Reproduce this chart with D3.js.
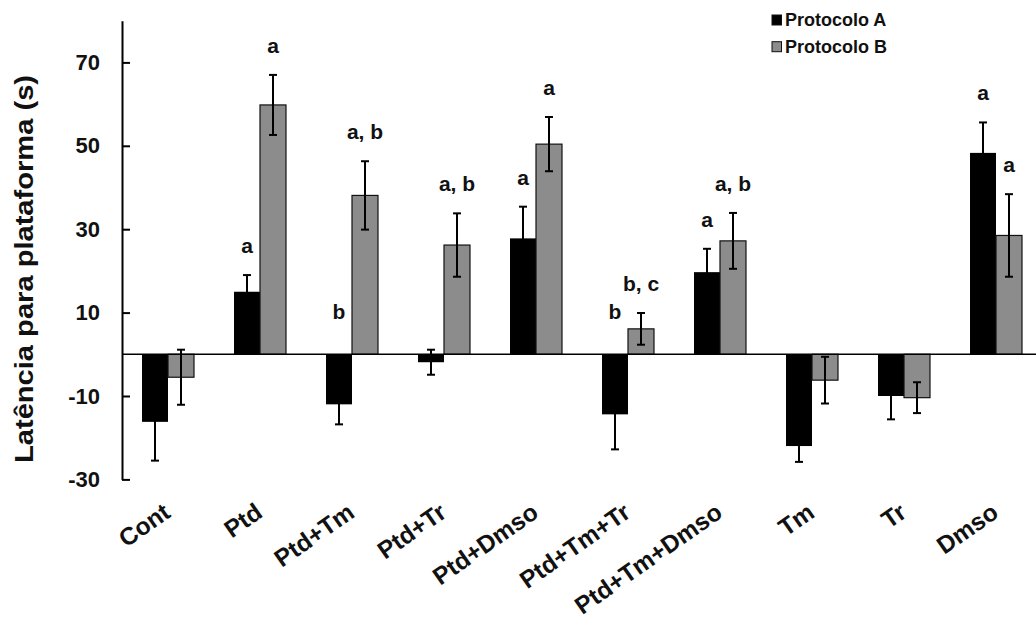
<!DOCTYPE html>
<html>
<head>
<meta charset="utf-8">
<script src="https://cdn.jsdelivr.net/npm/d3@7"></script>
<style>
  html, body { margin: 0; padding: 0; background: #fff; }
  svg { display: block; font-family: "Liberation Sans", Arial, sans-serif; }
</style>
</head>
<body>
<svg id="chart" width="1036" height="621"></svg>
<script>
// Groups (treatments) and the two protocols compared
const categories = ["Cont", "Ptd", "Ptd+Tm", "Ptd+Tr", "Ptd+Dmso", "Ptd+Tm+Tr", "Ptd+Tm+Dmso", "Tm", "Tr", "Dmso"];
const seriesNames = ["Protocolo A", "Protocolo B"];

// Mean latency to platform (s) and error (SEM) for each group
const meanA = [-16.2, 15.0, -12.0, -1.9, 27.8, -14.4, 19.7, -22.0, -10.0, 48.3];
const errA  = [9.3, 4.0, 4.8, 3.0, 7.6, 8.4, 5.6, 3.8, 5.6, 7.3];
const meanB = [-5.5, 59.8, 38.1, 26.2, 50.4, 6.1, 27.2, -6.2, -10.4, 28.5];
const errB  = [6.6, 7.2, 8.2, 7.6, 6.5, 3.8, 6.7, 5.6, 3.7, 9.9];

// Significance letters above the bars
const lettersA = ["", "a", "b", "", "a", "b", "a", "", "", "a"];
const lettersB = ["", "a", "a, b", "a, b", "a", "b, c", "a, b", "", "", "a"];

// Y axis
const yTicks = [70, 50, 30, 10, -10, -30];
const yDomain = [-30, 80];
const yTitle = "Latência para plataforma (s)";

const seriesColors = ["#000000", "#8c8c8c"];

const rows = [];
categories.forEach((c, i) => {
  rows.push({ cat: c, series: seriesNames[0], mean: meanA[i], err: errA[i], letter: lettersA[i] });
  rows.push({ cat: c, series: seriesNames[1], mean: meanB[i], err: errB[i], letter: lettersB[i] });
});

const svg = d3.select("#chart");

const x0 = d3.scaleBand().domain(categories).range([122, 1042]).paddingInner(0).paddingOuter(0);
const x1 = d3.scaleBand().domain(seriesNames).range([0, x0.bandwidth()]).paddingInner(0).paddingOuter(0.77);
const y = d3.scaleLinear().domain(yDomain).range([479.4, 20.7]);
const color = d3.scaleOrdinal().domain(seriesNames).range(seriesColors);

// Bars
svg.append("g").selectAll("rect")
  .data(rows)
  .join("rect")
  .attr("x", d => x0(d.cat) + x1(d.series))
  .attr("width", x1.bandwidth())
  .attr("y", d => y(Math.max(0, d.mean)))
  .attr("height", d => Math.abs(y(d.mean) - y(0)))
  .attr("fill", d => color(d.series))
  .attr("stroke", "#111")
  .attr("stroke-width", d => d.series === seriesNames[1] ? 1.2 : 0);

// Zero line
svg.append("line")
  .attr("x1", 122).attr("x2", 1036)
  .attr("y1", y(0)).attr("y2", y(0))
  .attr("stroke", "#000").attr("stroke-width", 1.6);

// Error bars
const eb = svg.append("g").attr("stroke", "#000").attr("stroke-width", 2);
const cx = d => x0(d.cat) + x1(d.series) + x1.bandwidth() / 2;
eb.selectAll("line.v").data(rows).join("line").attr("class", "v")
  .attr("x1", cx).attr("x2", cx)
  .attr("y1", d => y(d.mean - d.err)).attr("y2", d => y(d.mean + d.err));
eb.selectAll("line.t").data(rows).join("line").attr("class", "t")
  .attr("x1", d => cx(d) - 4).attr("x2", d => cx(d) + 4)
  .attr("y1", d => y(d.mean + d.err)).attr("y2", d => y(d.mean + d.err));
eb.selectAll("line.b").data(rows).join("line").attr("class", "b")
  .attr("x1", d => cx(d) - 4).attr("x2", d => cx(d) + 4)
  .attr("y1", d => y(d.mean - d.err)).attr("y2", d => y(d.mean - d.err));

// Significance letters
svg.append("g").selectAll("text")
  .data(rows.filter(d => d.letter))
  .join("text")
  .attr("x", cx)
  .attr("y", d => d.mean > 0 ? y(d.mean + d.err) - 22 : y(0) - 35)
  .attr("text-anchor", "middle")
  .attr("font-size", 21)
  .attr("font-weight", "bold")
  .attr("fill", "#111")
  .text(d => d.letter);

// Y axis (hyphen minus signs on the tick labels)
const yAxis = d3.axisLeft(y).tickValues(yTicks).tickFormat(d => String(d))
  .tickSizeInner(-8).tickSizeOuter(0).tickPadding(22);
const gy = svg.append("g").attr("transform", "translate(122,0)").call(yAxis);
gy.select(".domain").attr("stroke", "#000").attr("stroke-width", 2);
gy.selectAll(".tick line").attr("stroke", "#000").attr("stroke-width", 2);
gy.selectAll(".tick text")
  .attr("font-size", 22).attr("font-weight", "bold").attr("fill", "#111")
  .attr("font-family", "Liberation Sans, Arial, sans-serif");

// Y axis title
svg.append("text")
  .attr("transform", "translate(33,269) rotate(-90)")
  .attr("text-anchor", "middle")
  .attr("font-size", 25)
  .attr("font-weight", "bold")
  .attr("fill", "#111")
  .attr("textLength", 388)
  .attr("lengthAdjust", "spacingAndGlyphs")
  .text(yTitle);

// Category labels
const xAxis = d3.axisBottom(x0).tickSize(0).tickPadding(0);
const gx = svg.append("g").attr("transform", "translate(0,516)").call(xAxis);
gx.select(".domain").remove();
gx.selectAll(".tick text")
  .attr("font-size", 24.5).attr("font-weight", "bold").attr("fill", "#111")
  .attr("font-family", "Liberation Sans, Arial, sans-serif")
  .attr("text-anchor", "end")
  .attr("dy", 0).attr("y", 0)
  .attr("transform", "translate(4,0) rotate(-35)");

// Legend
const legend = svg.append("g");
seriesNames.forEach((s, i) => {
  const row = legend.append("g").attr("transform", `translate(772,${15 + i * 26.7})`);
  row.append("rect").attr("width", 9.5).attr("height", 10)
    .attr("fill", color(s)).attr("stroke", "#111").attr("stroke-width", 1);
  row.append("text").attr("x", 13).attr("y", 11)
    .attr("font-size", 18).attr("font-weight", "bold").attr("fill", "#111")
    .text(s);
});
</script>
</body>
</html>
